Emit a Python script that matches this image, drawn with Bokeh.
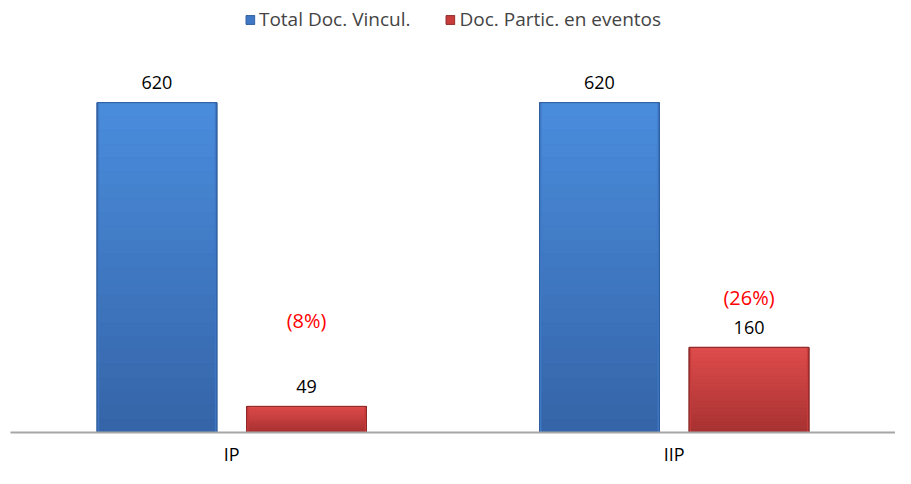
from bokeh.plotting import figure
from bokeh.models import ColumnDataSource, FactorRange, Range1d, Legend, LegendItem
from bokeh.transform import dodge
from bokeh.core.properties import value
from bokeh.embed import file_html
from bokeh.resources import INLINE

# ---- data ----
categories = ["IP", "IIP"]
total_doc = [620, 620]
doc_partic = [49, 160]
pct_labels = ["(8%)", "(26%)"]
# anchor heights (data units) for the percentage annotations
pct_anchor = [211, 254]

series_names = ["Total Doc. Vincul.", "Doc. Partic. en eventos"]

FONT = "Open Sans"

p = figure(x_range=FactorRange(*categories), y_range=Range1d(0, 812),
           width=895, height=468, output_backend="svg", toolbar_location=None,
           min_border_left=10, min_border_right=0, min_border_top=0, min_border_bottom=10)
p.outline_line_color = None
p.background_fill_color = "white"
p.xgrid.visible = False
p.ygrid.visible = False
p.yaxis.visible = False

BW = 0.271
OFF = 0.169


def lerp(c1, c2, t):
    a = [int(c1[i:i + 2], 16) for i in (1, 3, 5)]
    b = [int(c2[i:i + 2], 16) for i in (1, 3, 5)]
    return "#%02x%02x%02x" % tuple(int(round(a[k] + (b[k] - a[k]) * t)) for k in range(3))


def bars(vals, offset, top_col, bot_col, edge_col, mid_col):
    src = ColumnDataSource(dict(x=categories, top=vals))
    base = p.vbar(x=dodge("x", offset, range=p.x_range), top="top", width=BW, source=src,
                  fill_color=mid_col, line_color=edge_col, line_width=1)
    n = 24
    for i in range(n):
        t = i / (n - 1)
        col = lerp(bot_col, top_col, t)
        s = ColumnDataSource(dict(x=categories,
                                  b=[v * i / n for v in vals],
                                  t=[v * (i + 1) / n for v in vals]))
        p.vbar(x=dodge("x", offset, range=p.x_range), bottom="b", top="t", width=BW - 0.01,
               source=s, fill_color=col, line_color=col, line_width=0.5)
    # outline on top
    p.vbar(x=dodge("x", offset, range=p.x_range), top="top", width=BW, source=src,
           fill_color=None, line_color=edge_col, line_width=1)
    lab = ColumnDataSource(dict(x=categories, y=vals, t=[str(v) for v in vals]))
    p.text(x=dodge("x", offset, range=p.x_range), y="y", text="t", source=lab,
           text_align="center", text_baseline="middle", y_offset=-20,
           text_font=value(FONT), text_font_size="18px", text_color="#000000")
    return base


r1 = bars(total_doc, -OFF, "#4a8cdc", "#3565a8", "#2f5e9e", "#3f78c4")
r2 = bars(doc_partic, OFF, "#de4c4c", "#a83232", "#8e2a2a", "#c83c3c")

pct_src = ColumnDataSource(dict(x=categories, y=pct_anchor, t=pct_labels))
p.text(x=dodge("x", OFF, range=p.x_range), y="y", text="t", source=pct_src,
       text_align="center", text_baseline="middle",
       text_font=value(FONT), text_font_size="20px", text_color="#ff0000")

legend = Legend(items=[LegendItem(label=series_names[0], renderers=[r1]),
                       LegendItem(label=series_names[1], renderers=[r2])],
                orientation="horizontal", location="top_center",
                background_fill_alpha=0, border_line_color=None,
                label_text_font=FONT, label_text_font_size="19px",
                glyph_width=11, glyph_height=11, label_standoff=4, spacing=34,
                margin=6, padding=2)
p.add_layout(legend, "center")

p.xaxis.axis_line_color = "#a6a6a6"
p.xaxis.axis_line_width = 2
p.xaxis.major_tick_line_color = None
p.xaxis.minor_tick_line_color = None
p.xaxis.major_tick_out = 0
p.xaxis.major_tick_in = 0
p.xaxis.axis_label_standoff = 0
p.xaxis.major_label_text_font = FONT
p.xaxis.major_label_text_font_size = "18px"
p.xaxis.major_label_text_color = "#000000"
p.xaxis.major_label_standoff = 9

open("out.html", "w").write(file_html(p, INLINE))
